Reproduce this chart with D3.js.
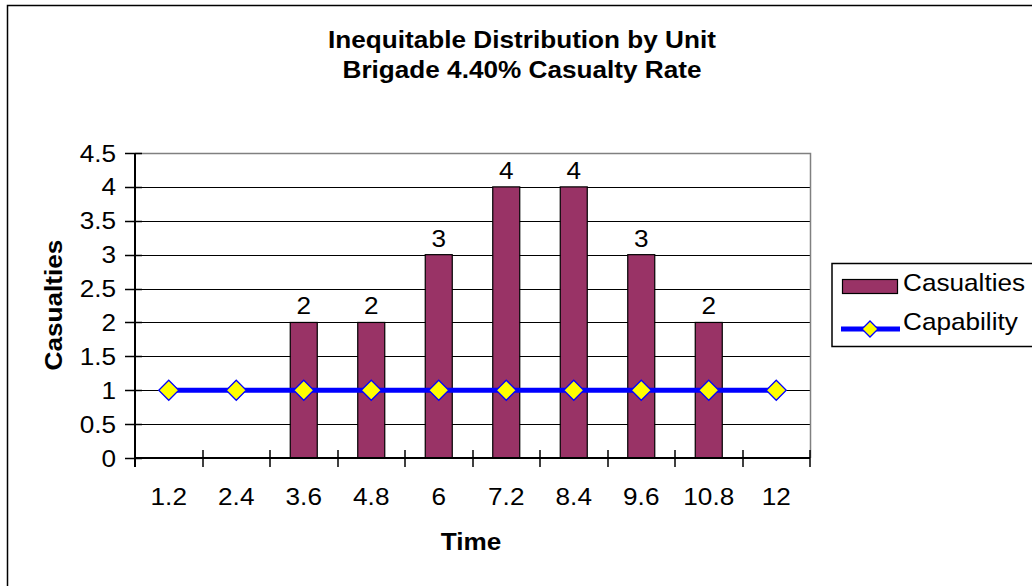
<!DOCTYPE html>
<html><head><meta charset="utf-8">
<script src="https://cdn.jsdelivr.net/npm/d3@7"></script>
<style>body{margin:0;background:#fff}svg{display:block}text{font-family:Arial,"Liberation Sans",sans-serif}</style>
</head><body>
<svg id="c" width="1032" height="586"></svg>
<script>
const categories = ["1.2","2.4","3.6","4.8","6","7.2","8.4","9.6","10.8","12"];
const casualties = [0,0,2,2,3,4,4,3,2,0];
const capability = [1,1,1,1,1,1,1,1,1,1];
const yTicks = [0,0.5,1,1.5,2,2.5,3,3.5,4,4.5];
const titleLines = ["Inequitable Distribution by Unit","Brigade 4.40% Casualty Rate"];

const FS = 24, SX = 1.09;
const svg = d3.select("#c");
function txt(g, x, y, s, anchor, bold, rot) {
  return g.append("text")
    .attr("transform", `translate(${x},${y})${rot ? " rotate(" + rot + ")" : ""} scale(${SX},1)`)
    .attr("text-anchor", anchor || "start").attr("font-size", FS)
    .attr("font-weight", bold ? "bold" : "normal").attr("fill", "#000").text(s);
}

const L=135, R=810, T=153, B=458;
svg.append("rect").attr("x",7.5).attr("y",5.5).attr("width",1040).attr("height",600).attr("fill","#fff").attr("stroke","#000").attr("stroke-width",1.5);

const x = d3.scaleBand().domain(categories).range([L,R]).padding(0);
const y = d3.scaleLinear().domain([0,4.5]).range([B,T]);

// gridlines
svg.append("g").selectAll("line").data(yTicks.filter(d=>d>0&&d<4.5)).join("line")
  .attr("x1",L).attr("x2",R).attr("y1",d=>Math.round(y(d))+0.5).attr("y2",d=>Math.round(y(d))+0.5)
  .attr("stroke","#000").attr("stroke-width",1);
svg.append("path").attr("d",`M${L},${T+0.5}H${R+0.5}V${B}`).attr("fill","none").attr("stroke","#808080").attr("stroke-width",1.5);

// bars
const bw = 27;
const barData = casualties.map((v,i)=>({c:categories[i],v})).filter(d=>d.v>0);
svg.append("g").selectAll("rect").data(barData).join("rect")
  .attr("x",d=>x(d.c)+x.bandwidth()/2-bw/2).attr("width",bw)
  .attr("y",d=>y(d.v)).attr("height",d=>y(0)-y(d.v))
  .attr("fill","#993366").attr("stroke","#000").attr("stroke-width",1.2);
const lblG = svg.append("g");
barData.forEach(d=>txt(lblG, x(d.c)+x.bandwidth()/2, y(d.v)-8, d.v, "middle"));

// y axis
const yg = svg.append("g");
yTicks.forEach(t=>{
  txt(yg, 116, y(t)+8.5, t, "end");
  yg.append("line").attr("x1",L-10).attr("x2",L+7).attr("y1",Math.round(y(t))+0.5).attr("y2",Math.round(y(t))+0.5).attr("stroke","#000").attr("stroke-width",1.5);
});
svg.append("line").attr("x1",L).attr("x2",L).attr("y1",T).attr("y2",B+9).attr("stroke","#000").attr("stroke-width",2);

// x axis
const xa = svg.append("g");
xa.append("line").attr("x1",L).attr("x2",R).attr("y1",B).attr("y2",B).attr("stroke","#000").attr("stroke-width",2);
const bounds = categories.map(c=>x(c)).concat([x(categories[categories.length-1])+x.bandwidth()]);
xa.selectAll("line.tk").data(bounds).join("line").attr("class","tk")
  .attr("x1",d=>Math.round(d)).attr("x2",d=>Math.round(d)).attr("y1",B-8).attr("y2",B+9)
  .attr("stroke","#000").attr("stroke-width",1.5);
categories.forEach(c=>txt(xa, x(c)+x.bandwidth()/2, 505, c, "middle"));

// capability line
const line = d3.line().x((d,i)=>x(categories[i])+x.bandwidth()/2).y(d=>y(d));
svg.append("path").datum(capability).attr("d",line).attr("fill","none").attr("stroke","#0000FF").attr("stroke-width",5);
const diamond = "M0,-10L10,0L0,10L-10,0Z";
svg.append("g").selectAll("path").data(capability).join("path")
  .attr("transform",(d,i)=>`translate(${x(categories[i])+x.bandwidth()/2},${y(d)})`)
  .attr("d",diamond).attr("fill","#FFFF00").attr("stroke","#0000FF").attr("stroke-width",1.3);

// titles
const tg = svg.append("g");
titleLines.forEach((s,i)=>txt(tg, 522, 48+i*30, s, "middle", true));
txt(svg, 471, 550, "Time", "middle", true);
txt(svg, 62, 305, "Casualties", "middle", true, -90);

// legend
const lg = svg.append("g");
lg.append("rect").attr("x",832).attr("y",263.5).attr("width",220).attr("height",83).attr("fill","#fff").attr("stroke","#000").attr("stroke-width",1.5);
lg.append("rect").attr("x",842.5).attr("y",279.5).attr("width",55).attr("height",14).attr("fill","#993366").attr("stroke","#000").attr("stroke-width",1.2);
txt(lg, 903, 291, "Casualties");
lg.append("line").attr("x1",841).attr("x2",900).attr("y1",329).attr("y2",329).attr("stroke","#0000FF").attr("stroke-width",5);
lg.append("path").attr("transform","translate(870,329)").attr("d","M0,-8L8,0L0,8L-8,0Z").attr("fill","#FFFF00").attr("stroke","#0000FF").attr("stroke-width",1.3);
txt(lg, 903, 330, "Capability");
</script>
</body></html>
